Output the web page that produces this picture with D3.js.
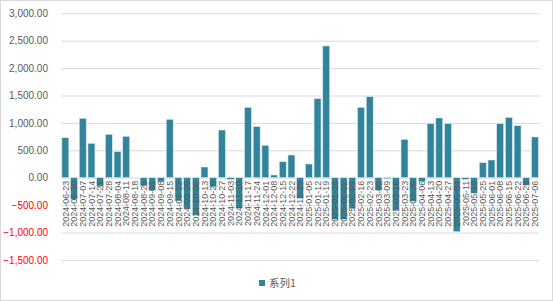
<!DOCTYPE html>
<html>
<head>
<meta charset="utf-8">
<script src="https://cdn.jsdelivr.net/npm/d3@7"></script>
<style>
  body { margin: 0; background: #fff; }
  svg { display: block; font-family: "Liberation Sans", Arial, sans-serif; }
</style>
</head>
<body>
<svg id="chart" width="553" height="301"></svg>
<script>
// weekly dates
const dates = [
  "2024-06-23","2024-06-30","2024-07-07","2024-07-14","2024-07-21","2024-07-28","2024-08-04","2024-08-11",
  "2024-08-18","2024-08-25","2024-09-01","2024-09-08","2024-09-15","2024-09-22","2024-09-29","2024-10-06",
  "2024-10-13","2024-10-20","2024-10-27","2024-11-03","2024-11-10","2024-11-17","2024-11-24","2024-12-01",
  "2024-12-08","2024-12-15","2024-12-22","2024-12-29","2025-01-05","2025-01-12","2025-01-19","2025-01-26",
  "2025-02-02","2025-02-09","2025-02-16","2025-02-23","2025-03-02","2025-03-09","2025-03-16","2025-03-23",
  "2025-03-30","2025-04-06","2025-04-13","2025-04-20","2025-04-27","2025-05-04","2025-05-11","2025-05-18",
  "2025-05-25","2025-06-01","2025-06-08","2025-06-15","2025-06-22","2025-06-29","2025-07-06"
];

// 系列1
const series1 = [
  730, -395, 1084, 628, -164, 792, 475, 755,
  0, -151, -237, -73, 1066, -425, -566, -684,
  195, -168, 870, -32, -560, 1285, 931, 591,
  49, 292, 414, -380, 250, 1442, 2404, -766,
  -760, -566, 1285, 1478, -228, -20, -592, 700,
  -430, -68, 986, 1090, 986, -986, -30, -286,
  274, 323, 986, 1102, 949, -139, 743
];

const yTicks = [-1500, -1000, -500, 0, 500, 1000, 1500, 2000, 2500, 3000];
const seriesName = "系列1";

const svg = d3.select("#chart");
const W = 553, H = 301;
const margin = { top: 13.3, left: 61, right: 13.7, bottom: 41.1 };
const plotW = W - margin.left - margin.right;
const plotH = H - margin.top - margin.bottom;

const teal = "#31849b";
const gray = "#595959";

// outer border
svg.append("rect")
  .attr("x", 0.5).attr("y", 0.5)
  .attr("width", W - 1).attr("height", H - 1)
  .attr("fill", "#fff").attr("stroke", "#d9d9d9");

const x = d3.scaleBand()
  .domain(dates)
  .range([0, plotW])
  .paddingInner(0.2)
  .paddingOuter(0.1);

const y = d3.scaleLinear()
  .domain([-1500, 3000])
  .range([plotH, 0]);

const g = svg.append("g")
  .attr("transform", `translate(${margin.left},${margin.top})`);

// gridlines
g.append("g")
  .call(d3.axisLeft(y).tickValues(yTicks).tickSize(-plotW).tickFormat(""))
  .call(s => s.select(".domain").remove())
  .call(s => s.selectAll("line").attr("stroke", "#d9d9d9").attr("stroke-width", 1));

// y labels
const fmt = d3.format(",.2f");
g.append("g")
  .call(d3.axisLeft(y).tickValues(yTicks).tickSize(0).tickPadding(13).tickFormat(fmt))
  .call(s => s.select(".domain").remove())
  .call(s => s.selectAll("text")
    .attr("font-size", 10)
    .attr("font-family", "\"Liberation Sans\", Arial, sans-serif")
    .attr("fill", d => d < 0 ? "#ff0000" : gray));

// bars
g.selectAll("rect.bar")
  .data(series1)
  .join("rect")
  .attr("class", "bar")
  .attr("x", (d, i) => x(dates[i]))
  .attr("width", x.bandwidth())
  .attr("y", d => y(Math.max(0, d)))
  .attr("height", d => Math.abs(y(d) - y(0)))
  .attr("fill", teal)
  .attr("stroke", "#d6e9ef")
  .attr("stroke-width", 0.6);

// x labels (rotated)
g.append("g")
  .selectAll("text")
  .data(dates)
  .join("text")
  .attr("transform", d => `translate(${x(d) + x.bandwidth() / 2},${y(0) + 3}) rotate(-90)`)
  .attr("text-anchor", "end")
  .attr("dy", "0.35em")
  .attr("font-size", 9)
  .attr("fill", gray)
  .text(d => d);

// legend
const leg = svg.append("g").attr("transform", "translate(259,280)");
leg.append("rect").attr("width", 6).attr("height", 6).attr("fill", teal);
leg.append("text")
  .attr("x", 10).attr("y", 7)
  .attr("font-size", 10.5)
  .attr("fill", gray)
  .attr("font-family", "\"Noto Sans CJK SC\", sans-serif")
  .text(seriesName);
</script>
</body>
</html>
